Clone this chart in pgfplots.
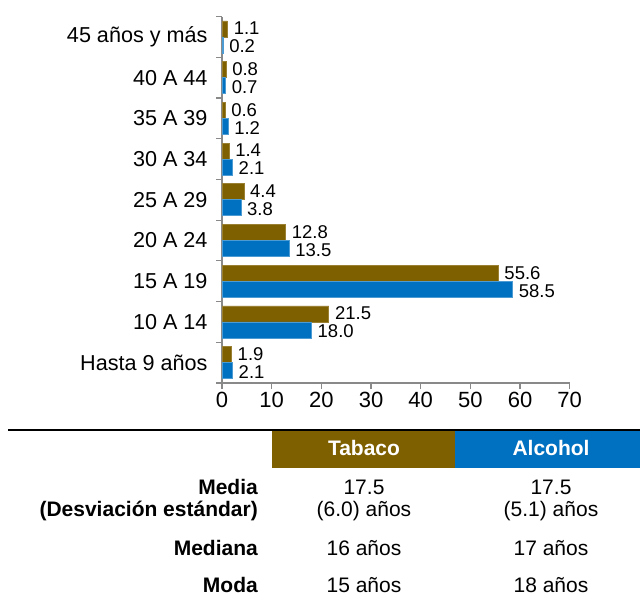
\documentclass[border=0pt]{standalone}
\usepackage{pgfplots}
\pgfplotsset{compat=1.18}
\usepackage{fontspec}
\setmainfont{Liberation Sans}
\definecolor{tab}{HTML}{7F6000}
\definecolor{alc}{HTML}{0070C0}
\definecolor{axgray}{HTML}{898989}
\begin{document}
\begin{tikzpicture}
\path[use as bounding box] (0,0) rectangle (640pt,-596pt);
\begin{axis}[
  at={(222pt,-383pt)}, anchor=south west,
  scale only axis, width=347.7pt, height=366.5pt,
  xbar, bar width=16pt,
  xmin=0, xmax=70, ymin=-0.5, ymax=8.5,
  axis lines*=left,
  axis line style={axgray, line width=1.2pt},
  /pgf/number format/assume math mode=true,
  xtick={0,10,...,70},
  ytick={-0.5,0.5,...,8.5},
  yticklabels={Hasta 9 años,10 A 14,15 A 19,20 A 24,25 A 29,30 A 34,35 A 39,40 A 44,45 años y más,{}},
  yticklabel style={yshift=20.36pt, xshift=-5pt, font=\fontsize{21.6}{24}\selectfont},
  xticklabel style={font=\fontsize{22}{25}\selectfont},
  tick align=outside,
  major tick length=6pt,
  tick style={axgray, line width=1.2pt},
  nodes near coords,
  every node near coord/.append style={font=\fontsize{18.5}{21}\selectfont, black,
    inner sep=0pt, xshift=6pt,
    /pgf/number format/fixed, /pgf/number format/fixed zerofill,
    /pgf/number format/precision=1},
  clip=false,
]
\addplot[fill=tab, draw=tab!80!white, line width=0.6pt, bar shift=8pt,
  every node near coord/.append style={yshift=0.5pt}] coordinates {
  (1.9,0) (21.5,1) (55.6,2) (12.8,3) (4.4,4) (1.4,5) (0.6,6) (0.8,7) (1.1,8)};
\addplot[fill=alc, draw=alc!70!white, line width=0.6pt, bar shift=-8pt,
  every node near coord/.append style={yshift=-1.5pt}] coordinates {
  (2.1,0) (18.0,1) (58.5,2) (13.5,3) (3.8,4) (2.1,5) (1.2,6) (0.7,7) (0.2,8)};
\end{axis}
% summary table
\draw[line width=2pt] (8pt,-430pt) -- (640pt,-430pt);
\fill[tab] (272pt,-431pt) rectangle (455pt,-468pt);
\fill[alc] (455pt,-431pt) rectangle (640pt,-468pt);
\begin{scope}[every node/.style={inner sep=0pt, font=\fontsize{21}{24}\selectfont}]
\node[anchor=base, text=white, font=\bfseries\fontsize{21}{24}\selectfont] at (364pt,-455.7pt) {Tabaco};
\node[anchor=base, text=white, font=\bfseries\fontsize{21}{24}\selectfont] at (551pt,-455.7pt) {Alcohol};
\node[anchor=base east, font=\bfseries\fontsize{21}{24}\selectfont] at (258pt,-494pt) {Media};
\node[anchor=base east, font=\bfseries\fontsize{21}{24}\selectfont] at (258pt,-516pt) {(Desviación estándar)};
\node[anchor=base east, font=\bfseries\fontsize{21}{24}\selectfont] at (258pt,-555.5pt) {Mediana};
\node[anchor=base east, font=\bfseries\fontsize{21}{24}\selectfont] at (258pt,-592pt) {Moda};
\node[anchor=base] at (364pt,-494pt) {17.5};
\node[anchor=base] at (364pt,-516pt) {(6.0) años};
\node[anchor=base] at (364pt,-555.5pt) {16 años};
\node[anchor=base] at (364pt,-592pt) {15 años};
\node[anchor=base] at (551pt,-494pt) {17.5};
\node[anchor=base] at (551pt,-516pt) {(5.1) años};
\node[anchor=base] at (551pt,-555.5pt) {17 años};
\node[anchor=base] at (551pt,-592pt) {18 años};
\end{scope}
\end{tikzpicture}
\end{document}
